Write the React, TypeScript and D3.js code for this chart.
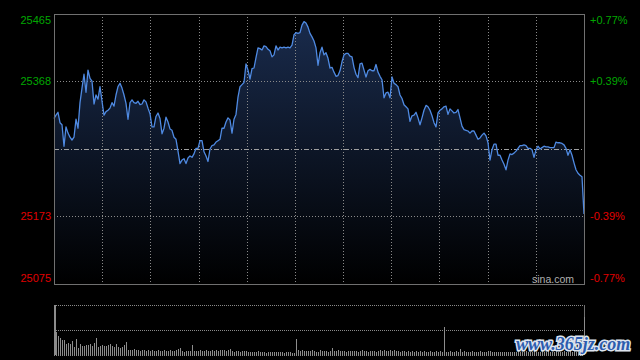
import React, { useRef, useEffect } from "react";
import { select, scaleLinear, line, area, max, range } from "d3";

// intraday index (one value per ~1.25 minutes)
const prices = [
  25314, 25319, 25323, 25308, 25305, 25274, 25302, 25293, 25287, 25283,
  25287, 25313, 25300, 25337, 25358, 25378, 25352, 25384, 25372, 25368,
  25335, 25348, 25342, 25360, 25339, 25319, 25324, 25326, 25329, 25337,
  25332, 25348, 25360, 25365, 25358, 25348, 25336, 25313, 25337, 25341,
  25337, 25336, 25339, 25334, 25335, 25341, 25338, 25329, 25321, 25302,
  25302, 25317, 25322, 25314, 25292, 25300, 25316, 25309, 25299, 25297,
  25287, 25284, 25267, 25249, 25254, 25256, 25249, 25257, 25260, 25258,
  25263, 25271, 25271, 25282, 25282, 25266, 25260, 25252, 25270, 25275,
  25276, 25280, 25282, 25284, 25300, 25300, 25309, 25315, 25312, 25293,
  25313, 25320, 25345, 25360, 25363, 25366, 25393, 25384, 25371, 25386,
  25387, 25402, 25416, 25415, 25413, 25419, 25418, 25414, 25412, 25403,
  25406, 25419, 25413, 25417, 25416, 25417, 25416, 25417, 25416, 25420,
  25435, 25438, 25437, 25438, 25449, 25454, 25452, 25446, 25437, 25432,
  25426, 25416, 25391, 25409, 25417, 25406, 25409, 25401, 25387, 25388,
  25381, 25375, 25376, 25383, 25396, 25406, 25408, 25408, 25404, 25403,
  25388, 25378, 25373, 25393, 25394, 25384, 25374, 25383, 25385, 25383,
  25383, 25392, 25381, 25375, 25370, 25344, 25351, 25352, 25344, 25374,
  25365, 25363, 25360, 25348, 25343, 25334, 25331, 25328, 25310, 25318,
  25319, 25323, 25315, 25305, 25315, 25326, 25333, 25331, 25326, 25318,
  25308, 25302, 25322, 25326, 25328, 25331, 25332, 25320, 25328, 25325,
  25322, 25323, 25327, 25315, 25303, 25298, 25297, 25296, 25293, 25296,
  25296, 25290, 25284, 25286, 25290, 25293, 25289, 25279, 25254, 25269,
  25277, 25277, 25261, 25261, 25254, 25248, 25240, 25254, 25263, 25262,
  25264, 25267, 25271, 25275, 25275, 25276, 25275, 25271, 25271, 25269,
  25258, 25269, 25274, 25270, 25272, 25274, 25273, 25273, 25272, 25272,
  25272, 25280, 25279, 25279, 25278, 25276, 25271, 25261, 25269, 25261,
  25250, 25240, 25235, 25232, 25230, 25176,
];

// traded volume, same slots as prices (relative units)
const volumes = [
  50, 23, 19, 17, 15, 15, 11, 12, 11, 14,
  8, 16, 7, 11, 9, 9, 10, 10, 11, 9,
  12, 17, 8, 9, 10, 9, 9, 10, 11, 9,
  8, 11, 8, 7, 8, 10, 13, 5, 5, 5,
  6, 5, 5, 4, 5, 5, 4, 5, 4, 5,
  4, 4, 5, 4, 4, 5, 4, 4, 5, 4,
  4, 5, 6, 7, 4, 3, 4, 4, 4, 10,
  4, 4, 4, 5, 4, 4, 5, 4, 4, 5,
  4, 5, 4, 5, 5, 5, 4, 5, 6, 4,
  3, 4, 4, 3, 4, 4, 4, 3, 3, 3,
  3, 3, 4, 3, 3, 3, 2, 3, 3, 3,
  3, 3, 3, 3, 3, 2, 3, 3, 3, 2,
  2, 16, 5, 4, 5, 4, 4, 4, 4, 5,
  4, 3, 3, 5, 4, 4, 4, 3, 4, 7,
  4, 4, 5, 4, 4, 4, 3, 4, 4, 4,
  4, 4, 3, 4, 5, 4, 4, 3, 4, 4,
  4, 3, 4, 5, 4, 5, 4, 4, 5, 4,
  5, 4, 4, 3, 4, 4, 3, 4, 3, 4,
  3, 4, 3, 4, 3, 4, 3, 3, 4, 3,
  3, 4, 3, 4, 3, 28, 3, 3, 4, 3,
  3, 4, 3, 6, 3, 4, 3, 3, 3, 4,
  3, 3, 3, 4, 3, 3, 3, 4, 4, 3,
  3, 3, 3, 3, 3, 3, 3, 3, 3, 3,
  3, 3, 4, 3, 3, 3, 4, 3, 3, 3,
  4, 3, 3, 3, 4, 3, 3, 4, 3, 3,
  3, 4, 3, 3, 3, 4, 3, 3, 4, 3,
  4, 3, 4, 5, 6, 38,
];

const priceTicks = [25465, 25368, 25270, 25173, 25075];
const pctLabels = ["+0.77%", "+0.39%", "", "-0.39%", "-0.77%"];
const prevClose = 25270;
const halfHours = 11;

const App = () => {
  const svgRef = useRef(null);

  useEffect(() => {
    const svg = select(svgRef.current);
    svg.selectAll("*").remove();

    const left = 54, right = 584, top = 14, bottom = 284;
    const volTop = 305, volBottom = 355;
    const font = "'Liberation Sans', Arial, sans-serif";

    const x = scaleLinear().domain([0, prices.length - 1]).range([left, right]);
    const y = scaleLinear()
      .domain([priceTicks[priceTicks.length - 1], priceTicks[0]])
      .range([bottom, top]);
    const cols = scaleLinear().domain([0, halfHours]).range([left, right]);
    const v = scaleLinear().domain([0, max(volumes)]).range([volBottom, volTop]);

    const defs = svg.append("defs");
    const grad = defs
      .append("linearGradient")
      .attr("id", "fillGrad")
      .attr("gradientUnits", "userSpaceOnUse")
      .attr("x1", 0).attr("x2", 0)
      .attr("y1", top).attr("y2", bottom);
    grad.append("stop").attr("offset", 0).attr("stop-color", "#1a2c4e");
    grad.append("stop").attr("offset", 1).attr("stop-color", "#000000");

    svg.append("rect").attr("width", 640).attr("height", 360).attr("fill", "#000");

    // area + line
    const areaGen = area()
      .x((d, i) => x(i))
      .y0(bottom)
      .y1((d) => y(d));
    svg.append("path").datum(prices).attr("d", areaGen).attr("fill", "url(#fillGrad)");

    // grid
    svg
      .selectAll(".vgrid")
      .data(range(1, halfHours))
      .join("line")
      .attr("class", "vgrid")
      .attr("x1", (d) => Math.round(cols(d)) + 0.5)
      .attr("x2", (d) => Math.round(cols(d)) + 0.5)
      .attr("y1", top)
      .attr("y2", bottom)
      .attr("stroke", "#8a8a8a")
      .attr("stroke-dasharray", "1,2");

    svg
      .selectAll(".hgrid")
      .data(priceTicks.slice(1, -1))
      .join("line")
      .attr("class", "hgrid")
      .attr("x1", left)
      .attr("x2", right)
      .attr("y1", (d) => Math.round(y(d)) + 0.5)
      .attr("y2", (d) => Math.round(y(d)) + 0.5)
      .attr("stroke", (d) => (d === prevClose ? "#a0a0a0" : "#8a8a8a"))
      .attr("stroke-dasharray", (d) => (d === prevClose ? "5,2,1,2" : "1,2"));

    const lineGen = line()
      .x((d, i) => x(i))
      .y((d) => y(d));
    svg
      .append("path")
      .datum(prices)
      .attr("d", lineGen)
      .attr("fill", "none")
      .attr("stroke", "#4f8ae2")
      .attr("stroke-width", 1.3)
      .attr("stroke-linejoin", "round");

    // frame
    svg
      .append("rect")
      .attr("x", left + 0.5)
      .attr("y", top + 0.5)
      .attr("width", right - left)
      .attr("height", bottom - top)
      .attr("fill", "none")
      .attr("stroke", "#707070");

    // axis labels
    const labelY = (d) => Math.min(Math.max(y(d) + 4, top + 10), bottom - 2);
    svg
      .selectAll(".ltick")
      .data(priceTicks)
      .join("text")
      .attr("class", "ltick")
      .attr("x", 51)
      .attr("y", labelY)
      .attr("text-anchor", "end")
      .attr("font-family", font)
      .attr("font-size", 11)
      .attr("fill", (d) => (d > prevClose ? "#00a800" : "#e00000"))
      .text((d) => (d === prevClose ? "" : d));

    svg
      .selectAll(".rtick")
      .data(priceTicks)
      .join("text")
      .attr("class", "rtick")
      .attr("x", 590)
      .attr("y", labelY)
      .attr("font-family", font)
      .attr("font-size", 11)
      .attr("fill", (d) => (d > prevClose ? "#00a800" : "#e00000"))
      .text((d, i) => pctLabels[i]);

    svg
      .append("text")
      .attr("x", 532)
      .attr("y", 283)
      .attr("font-family", font)
      .attr("font-size", 10.5)
      .attr("fill", "#b0b0b0")
      .text("sina.com");

    // volume panel
    svg
      .selectAll(".vline")
      .data([volTop, (volTop + volBottom) / 2, volBottom])
      .join("line")
      .attr("class", "vline")
      .attr("x1", left)
      .attr("x2", right)
      .attr("y1", (d) => d + 0.5)
      .attr("y2", (d) => d + 0.5)
      .attr("stroke", "#8a8a8a")
      .attr("stroke-dasharray", "1,1");

    svg
      .append("line")
      .attr("x1", right + 0.5)
      .attr("x2", right + 0.5)
      .attr("y1", volTop)
      .attr("y2", volBottom)
      .attr("stroke", "#707070");

    svg
      .selectAll(".vol")
      .data(volumes)
      .join("rect")
      .attr("class", "vol")
      .attr("x", (d, i) => Math.round(x(i)))
      .attr("width", (d, i) => (i === 0 ? 2 : 1))
      .attr("y", (d) => v(d))
      .attr("height", (d) => volBottom - v(d))
      .attr("fill", "#8c8c8c");

    // watermark
    svg
      .append("text")
      .attr("x", 516)
      .attr("y", 350)
      .attr("font-family", "'Liberation Serif', serif")
      .attr("font-weight", "bold")
      .attr("font-style", "italic")
      .attr("font-size", 18)
      .attr("fill", "#2c5cae")
      .attr("stroke", "#dde4ee")
      .attr("stroke-width", 3)
      .attr("paint-order", "stroke")
      .text("www.365jz.com");
  }, []);

  return (
    <svg
      ref={svgRef}
      width={640}
      height={360}
      style={{ position: "absolute", left: 0, top: 0, display: "block" }}
    ></svg>
  );
};

export default App;
